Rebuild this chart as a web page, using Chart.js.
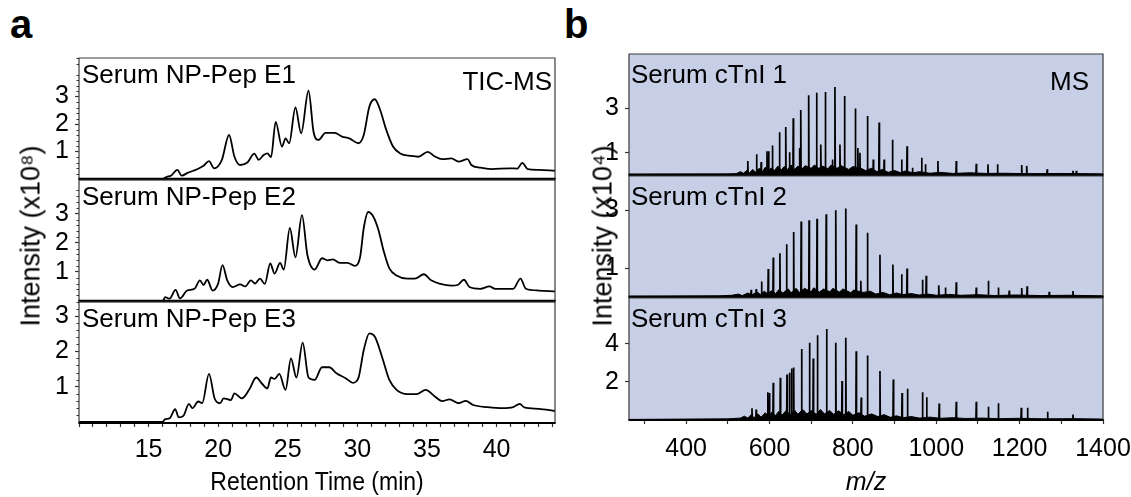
<!DOCTYPE html>
<html>
<head>
<meta charset="utf-8">
<script src="https://cdn.jsdelivr.net/npm/chart.js@4.4.1/dist/chart.umd.min.js"></script>
<style>
  body { margin:0; width:1131px; height:497px; background:#fff; position:relative; overflow:hidden;
         font-family:"Liberation Sans", Arial, sans-serif; }
  canvas { position:absolute; }
  .t { position:absolute; white-space:nowrap; line-height:1; font-size:26px; color:#000; }
  .big { font-size:40px; font-weight:bold; }
  .rot { font-size:27px; transform-origin:center center; transform:translate(-50%,-50%) rotate(-90deg); }
</style>
</head>
<body>
<div class="t big" style="left:10px;top:4px">a</div>
<div class="t big" style="left:564px;top:4px">b</div>

<canvas id="a1" width="560" height="129" style="left:0;top:54px"></canvas>
<canvas id="a2" width="560" height="129" style="left:0;top:176px"></canvas>
<canvas id="a3" width="560" height="185" style="left:0;top:298px"></canvas>
<canvas id="b1" width="571" height="129" style="left:560px;top:50px"></canvas>
<canvas id="b2" width="571" height="129" style="left:560px;top:172px"></canvas>
<canvas id="b3" width="571" height="186" style="left:560px;top:294px"></canvas>

<div class="t" style="left:82px;top:61px">Serum NP-Pep E1</div>
<div class="t" style="right:579px;top:68px">TIC-MS</div>
<div class="t" style="left:82px;top:183px">Serum NP-Pep E2</div>
<div class="t" style="left:82px;top:305px">Serum NP-Pep E3</div>
<div class="t" style="left:631px;top:61px">Serum cTnI 1</div>
<div class="t" style="right:42px;top:68px">MS</div>
<div class="t" style="left:631px;top:183px">Serum cTnI 2</div>
<div class="t" style="left:631px;top:305px">Serum cTnI 3</div>
<div class="t" style="left:317px;top:469px;font-size:25px;transform:translateX(-50%) scaleX(0.92)">Retention Time (min)</div>
<div class="t" style="left:866px;top:469px;font-size:25px;transform:translateX(-50%)"><i>m/z</i></div>
<div class="t rot" style="left:31px;top:236px">Intensity (x10⁸)</div>
<div class="t rot" style="left:603px;top:236px">Intensity (x10⁴)</div>

<script>
// ---- panel a: TIC chromatograms, [retention time (min), intensity x1e8]
const tic1 = [[10,0],[16.0,0],[16.3,0.08],[16.6,0.12],[17.07,0.33],[17.38,0.12],[17.8,0.22],[18.2,0.3],[18.6,0.38],
  [18.95,0.48],[19.34,0.65],[19.7,0.39],[20.26,0.69],[20.78,1.6],[21.17,0.81],[21.57,0.51],[22.1,0.6],[22.6,0.92],
  [22.9,0.7],[23.27,0.87],[23.53,0.93],[23.8,0.8],[24.13,2.08],[24.58,1.18],[24.84,1.48],[25.1,1.3],[25.55,2.6],
  [25.96,1.66],[26.49,3.21],[26.85,1.72],[27.2,1.42],[27.72,1.68],[28.37,1.68],[28.9,1.54],[29.42,1.48],[30.07,1.3],
  [30.46,1.6],[30.86,2.63],[31.25,2.9],[31.64,2.51],[32.04,1.84],[32.56,1.18],[33.08,0.93],[33.87,0.84],[34.39,0.81],
  [35.05,0.99],[35.57,0.82],[36.09,0.72],[36.75,0.75],[37.27,0.63],[37.92,0.72],[38.19,0.51],[38.84,0.41],[39.62,0.36],
  [40.93,0.39],[41.5,0.38],[41.85,0.59],[42.24,0.36],[43.03,0.33],[44.2,0.3]];
const tic2 = [[10,0],[16.0,0],[16.2,0.13],[16.5,0.08],[16.94,0.38],[17.25,0.09],[17.77,0.36],[18.3,0.42],[18.69,0.71],
  [18.95,0.55],[19.21,0.73],[19.6,0.36],[19.99,0.59],[20.31,1.23],[20.65,0.71],[21.04,0.48],[21.57,0.57],[21.95,0.5],
  [22.35,0.71],[22.65,0.6],[23.0,0.77],[23.35,0.59],[23.74,1.29],[24.05,0.94],[24.45,1.31],[24.71,1.08],[25.15,2.51],
  [25.55,1.5],[26.02,2.95],[26.41,1.58],[26.93,1.08],[27.46,1.47],[27.85,1.4],[28.24,1.43],[28.76,1.31],[29.29,1.31],
  [29.81,1.21],[30.2,1.52],[30.46,2.51],[30.78,3.06],[31.12,2.92],[31.51,2.45],[31.9,1.7],[32.3,1.12],[32.82,0.88],
  [33.6,0.77],[34.13,0.77],[34.78,0.92],[35.3,0.71],[35.96,0.59],[36.75,0.53],[37.2,0.55],[37.66,0.73],[38.05,0.48],
  [38.84,0.42],[39.49,0.5],[39.9,0.42],[41.2,0.42],[41.72,0.77],[42.11,0.42],[43.03,0.36],[44.2,0.33]];
const tic3 = [[10,0],[16.0,0],[16.2,0.08],[16.5,0.1],[16.91,0.36],[17.17,0.13],[17.5,0.17],[17.9,0.51],[18.15,0.39],
  [18.56,0.58],[18.85,0.53],[19.34,1.36],[19.74,0.67],[20.13,0.53],[20.39,0.67],[20.91,0.62],[21.17,0.81],[21.7,0.67],
  [22.22,0.91],[22.74,1.26],[23.14,1.09],[23.53,0.95],[23.79,1.26],[24.05,1.22],[24.39,1.36],[24.84,0.91],[25.23,1.8],
  [25.62,1.26],[26.07,2.25],[26.49,1.26],[26.93,1.19],[27.46,1.55],[27.98,1.55],[28.5,1.38],[29.16,1.24],[29.68,1.11],
  [30.07,1.24],[30.46,2.04],[30.86,2.51],[31.25,2.42],[31.77,1.85],[32.3,1.19],[32.82,0.91],[33.6,0.79],[34.26,0.79],
  [34.91,0.91],[35.57,0.72],[36.09,0.59],[36.62,0.64],[37.27,0.53],[37.79,0.6],[38.32,0.48],[39.36,0.42],[40.41,0.39],
  [41.2,0.42],[41.67,0.51],[42.0,0.41],[43.03,0.37],[44.2,0.31]];
const ticYTicks = [1, 2, 3];
const rtTicks = [10,11,12,13,14,15,16,17,18,19,20,21,22,23,24,25,26,27,28,29,30,31,32,33,34,35,36,37,38,39,40,41,42,43,44];
const rtLabels = [15, 20, 25, 30, 35, 40];

// ---- panel b: MS spectra, [m/z, intensity x1e4]
const ms1Peaks = [[548,0.63],[569,0.93],[580,0.59],[594,1.07],[598,1.07],[607,1.33],[624,1.92],[639,2.16],[648,1.03],
  [657,2.56],[672,1.22],[675,2.93],[694,3.59],[713,3.7],[723,1.37],[734,3.74],[751,0.7],[757,3.96],[769,1.37],[780,3.56],
  [806,3.0],[812,1.22],[817,1.0],[835,2.66],[849,0.7],[863,2.36],[875,0.7],[895,1.59],[917,0.7],[930,1.3],[943,0.33],
  [965,0.78],[974,0.48],[1004,0.63],[1048,0.63],[1096,0.51],[1124,0.48],[1147,0.48],[1205,0.45],[1217,0.41],[1266,0.26],
  [1328,0.19],[1336,0.19]];
const ms1Grass = [[263,0.04],[500,0.05],[520,0.06],[530,0.15],[538,0.08],[545,0.2],[552,0.1],[560,0.25],[566,0.12],
  [575,0.3],[583,0.15],[590,0.35],[597,0.18],[604,0.32],[612,0.2],[620,0.4],[628,0.22],[635,0.38],[644,0.25],[652,0.45],
  [660,0.25],[668,0.4],[678,0.28],[686,0.42],[700,0.3],[708,0.45],[718,0.3],[728,0.4],[740,0.28],[748,0.45],[762,0.3],
  [772,0.42],[790,0.25],[800,0.38],[820,0.3],[830,0.2],[845,0.3],[858,0.15],[870,0.25],[885,0.12],[900,0.2],[915,0.1],
  [925,0.18],[945,0.1],[960,0.15],[985,0.08],[1010,0.12],[1040,0.07],[1080,0.1],[1120,0.07],[1160,0.08],[1220,0.06],
  [1300,0.07],[1400,0.05]];
const ms2Peaks = [[556,0.25],[568,0.28],[581,0.54],[597,0.97],[609,1.37],[625,1.52],[641,1.83],[658,2.26],[676,2.62],
  [695,2.66],[714,2.72],[736,2.87],[759,3.01],[783,3.07],[808,2.52],[819,0.56],[835,2.23],[865,1.47],[896,1.13],[917,0.79],
  [930,0.99],[967,0.6],[976,0.74],[1006,0.41],[1022,0.33],[1048,0.51],[1096,0.33],[1125,0.56],[1149,0.33],[1175,0.22],
  [1205,0.31],[1218,0.37],[1271,0.18],[1328,0.21]];
const ms2Grass = [[263,0.03],[480,0.04],[510,0.06],[525,0.1],[535,0.05],[548,0.14],[558,0.07],[570,0.18],[578,0.09],
  [588,0.2],[596,0.1],[604,0.22],[615,0.12],[622,0.25],[632,0.14],[645,0.28],[652,0.15],[664,0.3],[672,0.16],[684,0.3],
  [700,0.18],[706,0.32],[720,0.17],[730,0.28],[745,0.18],[752,0.3],[768,0.17],[776,0.28],[795,0.15],[802,0.24],[825,0.16],
  [842,0.2],[855,0.1],[872,0.16],[888,0.08],[905,0.14],[920,0.08],[940,0.12],[958,0.07],[980,0.1],[1000,0.06],[1030,0.09],
  [1060,0.06],[1100,0.08],[1140,0.05],[1190,0.07],[1250,0.05],[1320,0.06],[1400,0.04]];
const ms3Peaks = [[558,0.61],[568,0.55],[596,1.46],[600,1.41],[609,1.95],[626,2.21],[642,2.39],[648,2.48],[653,2.7],
  [658,2.75],[677,3.73],[696,4.05],[705,3.23],[715,4.45],[737,4.77],[759,4.05],[774,2.04],[783,4.32],[808,3.61],[820,1.18],
  [835,3.39],[865,2.57],[897,2.13],[918,1.41],[931,1.64],[967,1.46],[977,1.2],[1007,0.87],[1048,0.96],[1096,0.96],
  [1125,0.7],[1149,0.88],[1204,0.64],[1219,0.64],[1267,0.43],[1328,0.29]];
const ms3Grass = [[263,0.03],[410,0.05],[500,0.06],[530,0.1],[540,0.2],[548,0.1],[556,0.28],[563,0.12],[572,0.32],
  [580,0.15],[590,0.38],[598,0.2],[606,0.42],[614,0.22],[622,0.45],[630,0.25],[640,0.5],[650,0.28],[660,0.52],[668,0.3],
  [680,0.55],[690,0.32],[700,0.5],[712,0.3],[722,0.55],[732,0.32],[744,0.5],[754,0.3],[766,0.48],[778,0.28],[790,0.45],
  [800,0.25],[815,0.38],[828,0.2],[845,0.32],[860,0.18],[875,0.28],[890,0.14],[905,0.22],[920,0.12],[940,0.18],[960,0.1],
  [985,0.15],[1010,0.09],[1040,0.12],[1070,0.08],[1110,0.1],[1150,0.07],[1200,0.09],[1260,0.06],[1330,0.07],[1400,0.05]];
const ms1YTicks = [1, 3];
const ms2YTicks = [1, 3];
const ms3YTicks = [2, 4];
const mzTicks = [300,400,500,600,700,800,900,1000,1100,1200,1300,1400];
const mzLabels = [400, 600, 800, 1000, 1200, 1400];

const FONT = { family: '"Liberation Sans", Arial, sans-serif', size: 25 };
const pts = arr => arr.map(([x, y]) => ({ x, y }));
// each peak is drawn as a thin stick rising from zero
function sticks(peaks) {
  const out = [];
  peaks.slice().sort((a, b) => a[0] - b[0]).forEach(([m, h]) => {
    out.push({ x: m - 0.8, y: 0 }, { x: m, y: h }, { x: m + 0.8, y: 0 });
  });
  return out;
}

const framePlugin = {
  id: 'frame',
  beforeDraw(chart, args, o) {
    if (!o.bg) return;
    const { ctx, chartArea: a } = chart;
    ctx.save();
    ctx.fillStyle = o.bg;
    ctx.fillRect(a.left, a.top, a.right - a.left, a.bottom - a.top);
    ctx.restore();
  },
  afterDraw(chart, args, o) {
    const { ctx, chartArea: a } = chart;
    ctx.save();
    ctx.strokeStyle = '#3a3a3a';
    ctx.lineWidth = 1.2;
    ctx.beginPath();
    ctx.moveTo(a.left, a.bottom); ctx.lineTo(a.left, a.top);
    ctx.lineTo(a.right, a.top); ctx.lineTo(a.right, a.bottom);
    ctx.stroke();
    ctx.strokeStyle = '#000';
    ctx.lineWidth = o.bottom || 2.6;
    ctx.beginPath();
    ctx.moveTo(a.left - 0.6, a.bottom); ctx.lineTo(a.right + 0.6, a.bottom);
    ctx.stroke();
    if (o.minor) {
      const s = chart.scales.y;
      ctx.strokeStyle = '#333';
      ctx.lineWidth = 1;
      for (let k = Math.ceil(s.min * 5); k <= Math.floor(s.max * 5); k++) {
        if (k % 5 === 0) continue;
        const py = Math.round(s.getPixelForValue(k / 5)) + 0.5;
        ctx.beginPath(); ctx.moveTo(a.left - 2.5, py); ctx.lineTo(a.left, py); ctx.stroke();
      }
    }
    ctx.restore();
  }
};

function panel(id, p) {
  const xScale = {
    type: 'linear', min: p.xmin, max: p.xmax, display: !!p.xTicks,
    afterBuildTicks: s => { s.ticks = (p.xTicks || []).map(v => ({ value: v })); },
    afterFit: s => {
      if (p.xTicks) s.height = 60;
      s.paddingLeft = 0; s.paddingRight = 0;
    },
    ticks: { font: FONT, color: '#000', padding: p.xPad, maxRotation: 0, autoSkip: false,
             callback: v => (p.xLabels.includes(v) ? String(v) : '') },
    grid: { drawOnChartArea: false, tickLength: 4, tickColor: '#333', tickWidth: 1.2 },
    border: { display: false }
  };
  new Chart(document.getElementById(id), {
    type: 'line',
    data: { datasets: p.datasets },
    options: {
      responsive: false, animation: false, events: [],
      layout: { padding: { top: 4, bottom: p.xTicks ? 0 : 4, left: 0, right: p.padR } },
      elements: { point: { radius: 0 } },
      plugins: { legend: { display: false }, tooltip: { enabled: false },
                 frame: { bg: p.bg, minor: p.minor, bottom: p.bottom } },
      scales: {
        x: xScale,
        y: {
          min: p.ymin, max: p.ymax,
          afterBuildTicks: s => { s.ticks = p.yTicks.map(v => ({ value: v })); },
          afterFit: s => { s.width = p.yWidth; s.paddingTop = 0; s.paddingBottom = 0; },
          ticks: { font: FONT, color: '#000', padding: 6 },
          grid: { drawOnChartArea: false, tickLength: 4, tickColor: '#333', tickWidth: 1.2 },
          border: { display: false }
        }
      }
    },
    plugins: [framePlugin]
  });
}

const ticLine = d => ({ data: pts(d), borderColor: '#000', borderWidth: 1.8,
                        cubicInterpolationMode: 'monotone', fill: false });
const msSets = (peaks, grass) => [
  { data: pts(grass), borderColor: '#000', borderWidth: 1, backgroundColor: '#000', fill: 'origin', tension: 0 },
  { data: sticks(peaks), borderColor: '#000', borderWidth: 1.7, fill: false, tension: 0 }
];

const aBase = { xmin: 10, xmax: 44.2, yWidth: 79, padR: 5, minor: true, yTicks: ticYTicks, xLabels: rtLabels, xPad: 8 };
panel('a1', { ...aBase, ymin: 0, ymax: 4.4, datasets: [ticLine(tic1)] });
panel('a2', { ...aBase, ymin: 0, ymax: 4.16, datasets: [ticLine(tic2)] });
panel('a3', { ...aBase, ymin: -0.03, ymax: 3.4, datasets: [ticLine(tic3)], xTicks: rtTicks, bottom: 2 });

const bBase = { xmin: 263, xmax: 1400, yWidth: 69, padR: 28, bg: '#c7cfe7', xLabels: mzLabels, xPad: 10 };
panel('b1', { ...bBase, ymin: 0, ymax: 5.45, yTicks: ms1YTicks, datasets: msSets(ms1Peaks, ms1Grass) });
panel('b2', { ...bBase, ymin: 0, ymax: 4.2, yTicks: ms2YTicks, datasets: msSets(ms2Peaks, ms2Grass) });
panel('b3', { ...bBase, ymin: 0, ymax: 6.4, yTicks: ms3YTicks, datasets: msSets(ms3Peaks, ms3Grass),
              xTicks: mzTicks, bottom: 2 });
</script>
</body>
</html>
